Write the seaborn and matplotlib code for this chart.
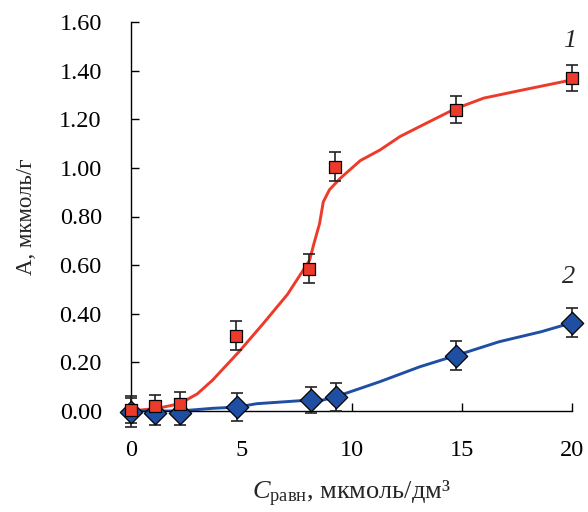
import matplotlib
matplotlib.use("Agg")
import matplotlib.pyplot as plt
import seaborn as sns
import pandas as pd

# ---- data ----
x1 = [0.0, 1.1, 2.2, 4.75, 8.05, 9.25, 14.75, 20.0]
y1 = [0.005, 0.02, 0.03, 0.31, 0.585, 1.005, 1.24, 1.37]
e1 = [0.055, 0.045, 0.05, 0.06, 0.06, 0.06, 0.055, 0.055]

x2 = [0.0, 1.1, 2.2, 4.8, 8.15, 9.3, 14.75, 20.0]
y2 = [-0.005, -0.008, -0.008, 0.015, 0.045, 0.057, 0.228, 0.363]
e2 = [0.06, 0.05, 0.05, 0.057, 0.053, 0.057, 0.06, 0.06]

cx1 = [0.0, 1.2, 2.2, 3.0, 3.7, 4.9, 6.0, 7.1, 8.1, 8.3, 8.55, 8.72, 9.0, 9.5,
       10.4, 11.3, 12.2, 13.4, 14.7, 16.0, 17.9, 20.0]
cy1 = [0.0, 0.011, 0.03, 0.07, 0.127, 0.244, 0.36, 0.48, 0.62, 0.69, 0.77, 0.86,
       0.91, 0.958, 1.03, 1.074, 1.129, 1.184, 1.243, 1.287, 1.323, 1.362]

cx2 = [0.0, 2.2, 3.7, 4.8, 5.7, 8.1, 8.7, 9.3, 11.3, 13.1, 14.8, 16.7, 18.6, 20.0]
cy2 = [0.0, 0.0, 0.011, 0.016, 0.03, 0.045, 0.045, 0.059, 0.121, 0.182, 0.23,
       0.285, 0.326, 0.363]

xticks = [0, 5, 10, 15, 20]
yticks = [0.0, 0.2, 0.4, 0.6, 0.8, 1.0, 1.2, 1.4, 1.6]

RED = "#EE3A2A"
BLUE = "#1E4FA3"

sns.set_style("ticks")
plt.rcParams["font.family"] = ["Liberation Serif", "DejaVu Serif"]
plt.rcParams["mathtext.fontset"] = "custom"
plt.rcParams["mathtext.rm"] = "Liberation Serif"
plt.rcParams["mathtext.it"] = "Liberation Serif:italic"

fig = plt.figure(figsize=(5.88, 5.12), dpi=100)
ax = fig.add_axes([131 / 588, 1 - 411 / 512, 441 / 588, 389 / 512])

c1 = pd.DataFrame({"x": cx1, "y": cy1})
c2 = pd.DataFrame({"x": cx2, "y": cy2})
sns.lineplot(data=c1, x="x", y="y", ax=ax, color=RED, lw=2.1, sort=False,
             estimator=None, zorder=2)
sns.lineplot(data=c2, x="x", y="y", ax=ax, color=BLUE, lw=2.1, sort=False,
             estimator=None, zorder=2)

for xs, ys, es in [(x1, y1, e1), (x2, y2, e2)]:
    eb = ax.errorbar(xs, ys, yerr=es, fmt="none", ecolor="#222222",
                     elinewidth=1.2, capsize=4.5, capthick=1.2, zorder=3)
    for a in eb.lines[1]:
        a.set_clip_on(False)
    for a in eb.lines[2]:
        a.set_clip_on(False)

p1 = pd.DataFrame({"x": x1, "y": y1})
p2 = pd.DataFrame({"x": x2, "y": y2})
sns.scatterplot(data=p2, x="x", y="y", ax=ax, marker="D", s=130, color=BLUE,
                edgecolor="black", linewidth=0.9, zorder=4, clip_on=False)
sns.scatterplot(data=p1, x="x", y="y", ax=ax, marker="s", s=85, color=RED,
                edgecolor="black", linewidth=0.9, zorder=5, clip_on=False)

ax.set_xlim(0, 20)
ax.set_ylim(0, 1.6)
ax.set_xticks(xticks)
ax.set_yticks(yticks)
ax.set_xticklabels([f"{v:d}" for v in xticks])
ax.set_yticklabels([f"{v:.2f}" for v in yticks])
ax.tick_params(axis="both", direction="in", length=6, width=1.0,
               labelsize=17.5, colors="black")
ax.tick_params(axis="x", pad=21)
ax.tick_params(axis="y", pad=21)
for s in ["top", "right"]:
    ax.spines[s].set_visible(False)
for s in ["left", "bottom"]:
    ax.spines[s].set_linewidth(1.0)
    ax.spines[s].set_color("black")

ax.set_xlabel(r"$C_{\mathrm{равн}}$, мкмоль/дм³", fontsize=19, labelpad=13)
ax.set_ylabel("А, мкмоль/г", fontsize=16.5, labelpad=16)

ax.text(19.9, 1.52, "1", fontsize=19, style="italic", ha="center", va="center")
ax.text(19.85, 0.553, "2", fontsize=19, style="italic", ha="center", va="center")

fig.savefig("out.png", dpi=100)
